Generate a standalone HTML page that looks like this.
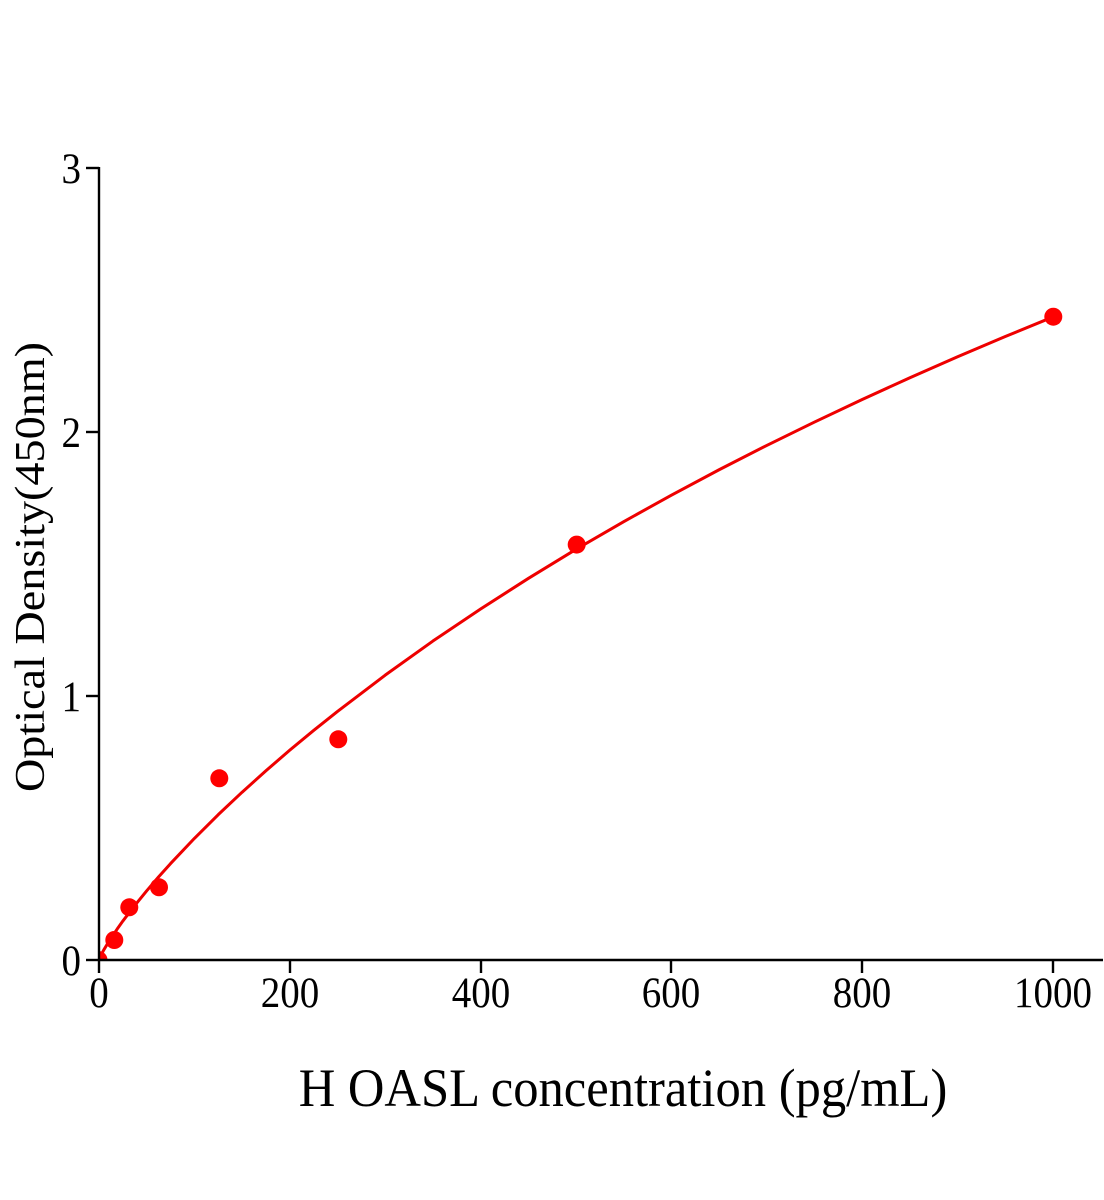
<!DOCTYPE html>
<html>
<head>
<meta charset="utf-8">
<style>
html,body{margin:0;padding:0;background:#fff;}
svg{display:block;}
text{font-family:"Liberation Serif","Times New Roman",serif;fill:#000;}
</style>
</head>
<body>
<svg width="1104" height="1200" viewBox="0 0 1104 1200" xmlns="http://www.w3.org/2000/svg">
<defs>
<clipPath id="plot"><rect x="99" y="100" width="1005" height="860"/></clipPath>
</defs>
<rect width="1104" height="1200" fill="#fff"/>
<g clip-path="url(#plot)">
<polyline fill="none" stroke="#ee0000" stroke-width="3" stroke-linejoin="round" stroke-linecap="round" points="99,960 100.9,955.38 103.77,949.95 108.54,941.96 118.08,927.69 122.85,921.06 132.39,908.49 146.7,890.83 158.6,876.9 170.55,863.59 194.4,838.38 218.25,814.64 242.1,792.2 265.95,770.74 289.8,750.17 313.65,730.42 337.5,711.39 385.2,675.14 432.9,641.04 480.6,608.99 528.3,578.44 576,549.32 623.7,521.65 671.4,495.15 719.1,469.75 766.8,445.41 814.5,422.05 862.2,399.48 909.9,377.77 957.6,356.79 1005.3,336.49 1053,316.95"/>
<g fill="#ff0000">
<circle cx="98.5" cy="960" r="9"/>
<circle cx="114.3" cy="940" r="9"/>
<circle cx="129.3" cy="907.3" r="9"/>
<circle cx="159" cy="887.3" r="9"/>
<circle cx="219.3" cy="778.3" r="9"/>
<circle cx="338.3" cy="739.3" r="9"/>
<circle cx="576.7" cy="544.6" r="9"/>
<circle cx="1053.3" cy="316.7" r="9"/>
</g>
</g>
<g stroke="#000" stroke-width="2.4" fill="none">
<line x1="99" y1="167" x2="99" y2="961"/>
<line x1="98" y1="960" x2="1103" y2="960"/>
<line x1="86" y1="168" x2="99" y2="168"/>
<line x1="86" y1="432" x2="99" y2="432"/>
<line x1="86" y1="696" x2="99" y2="696"/>
<line x1="86" y1="960" x2="99" y2="960"/>
<line x1="99" y1="960" x2="99" y2="973"/>
<line x1="290" y1="960" x2="290" y2="973"/>
<line x1="481" y1="960" x2="481" y2="973"/>
<line x1="671" y1="960" x2="671" y2="973"/>
<line x1="862" y1="960" x2="862" y2="973"/>
<line x1="1053" y1="960" x2="1053" y2="973"/>
</g>
<g font-size="39" text-anchor="end">
<text transform="translate(81,183) scale(1,1.1)">3</text>
<text transform="translate(81,447) scale(1,1.1)">2</text>
<text transform="translate(81,711) scale(1,1.1)">1</text>
<text transform="translate(81,975) scale(1,1.1)">0</text>
</g>
<g font-size="39" text-anchor="middle">
<text transform="translate(99,1007) scale(1,1.1)">0</text>
<text transform="translate(290,1007) scale(1,1.1)">200</text>
<text transform="translate(481,1007) scale(1,1.1)">400</text>
<text transform="translate(671,1007) scale(1,1.1)">600</text>
<text transform="translate(862,1007) scale(1,1.1)">800</text>
<text transform="translate(1053,1007) scale(1,1.1)">1000</text>
</g>
<text font-size="50.6" text-anchor="middle" transform="translate(623,1106) scale(1,1.07)">H OASL concentration (pg/mL)</text>
<text font-size="42" text-anchor="middle" transform="translate(44,567) scale(1,1.1) rotate(-90)">Optical Density(450nm)</text>
</svg>
</body>
</html>
